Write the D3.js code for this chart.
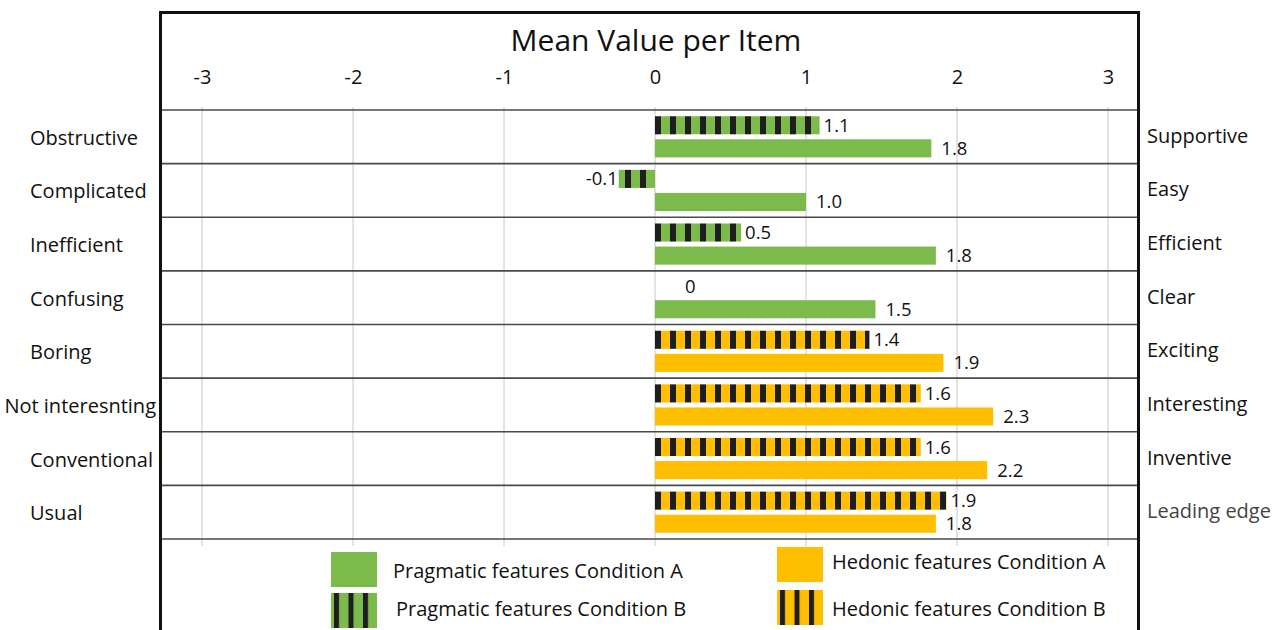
<!DOCTYPE html>
<html>
<head>
<meta charset="utf-8">
<script src="https://cdn.jsdelivr.net/npm/d3@7"></script>
<style>
  html, body { margin: 0; padding: 0; background: #fff; }
  svg { display: block; font-family: "Open Sans", sans-serif; }
</style>
</head>
<body>
<svg id="chart" width="1280" height="630"></svg>
<script>
// ---- data ----
const leftLabels  = ["Obstructive", "Complicated", "Inefficient", "Confusing", "Boring", "Not interesnting", "Conventional", "Usual"];
const rightLabels = ["Supportive", "Easy", "Efficient", "Clear", "Exciting", "Interesting", "Inventive", "Leading edge"];
const groups      = ["pragmatic", "pragmatic", "pragmatic", "pragmatic", "hedonic", "hedonic", "hedonic", "hedonic"];
const condA       = [1.83, 1.0, 1.86, 1.46, 1.91, 2.24, 2.2, 1.86];
const condB       = [1.09, -0.24, 0.57, 0, 1.42, 1.76, 1.76, 1.93];
const labelsA     = ["1.8", "1.0", "1.8", "1.5", "1.9", "2.3", "2.2", "1.8"];
const labelsB     = ["1.1", "-0.1", "0.5", "0", "1.4", "1.6", "1.6", "1.9"];
const tickValues  = [-3, -2, -1, 0, 1, 2, 3];
const legendItems = ["Pragmatic features Condition A", "Pragmatic features Condition B", "Hedonic features Condition A", "Hedonic features Condition B"];
const title = "Mean Value per Item";

// ---- style ----
const colors = { pragmatic: "#7dba4c", hedonic: "#ffbf00" };
const stripeColor = "#1e1e1e";

const svg = d3.select("#chart");
const defs = svg.append("defs");

const x = d3.scaleLinear().domain([-3, 3]).range([202, 1108]);
const rows = d3.range(leftLabels.length);
const y = d3.scaleBand().domain(rows).range([110, 539]).paddingInner(0).paddingOuter(0);
const sub = d3.scaleBand().domain(["B", "A"]).range([0, y.bandwidth()]).paddingInner(0.217).paddingOuter(0.27);

function makePattern(id, color, x0, period, w) {
  const p = defs.append("pattern").attr("id", id)
    .attr("patternUnits", "userSpaceOnUse")
    .attr("x", x0).attr("y", 0).attr("width", period).attr("height", 2000);
  p.append("rect").attr("width", period).attr("height", 2000).attr("fill", color);
  p.append("rect").attr("width", w).attr("height", 2000).attr("fill", stripeColor);
}
makePattern("stripe-pragmatic", colors.pragmatic, x(0), 15, 6);
makePattern("stripe-hedonic", colors.hedonic, x(0), 15, 6);

// gridlines
svg.append("g").selectAll("line").data(tickValues).join("line")
  .attr("x1", d => x(d)).attr("x2", d => x(d))
  .attr("y1", 107).attr("y2", 546)
  .attr("stroke", "#c8c8c8").attr("stroke-width", 1);

// row separators
const sepYs = rows.map(r => y(r)).concat([y.range()[1]]);
svg.append("g").selectAll("line").data(sepYs).join("line")
  .attr("x1", 161).attr("x2", 1138)
  .attr("y1", d => d).attr("y2", d => d)
  .attr("stroke", "#4a4a4a").attr("stroke-width", 1.6);

// axis tick labels (top)
const axis = d3.axisTop(x).tickValues(tickValues).tickSize(0).tickPadding(0).tickFormat(d3.format("d"));
const axG = svg.append("g").attr("transform", "translate(0,84)").call(axis);
axG.select(".domain").remove();
axG.selectAll("text").attr("font-size", 20).attr("fill", "#111").attr("font-family", "'Open Sans', sans-serif")
  .attr("dy", 0).attr("y", 0).text(d => d < 0 ? "-" + Math.abs(d) : d);

// title
svg.append("text").attr("x", 656).attr("y", 51).attr("text-anchor", "middle")
  .attr("font-size", 30).attr("fill", "#111").text(title);

// bars
const barG = svg.append("g");
rows.forEach(i => {
  const g = groups[i];
  const vb = condB[i], va = condA[i];
  // condition B (striped)
  barG.append("rect")
    .attr("x", x(Math.min(0, vb))).attr("width", Math.abs(x(vb) - x(0)))
    .attr("y", y(i) + sub("B")).attr("height", sub.bandwidth())
    .attr("fill", `url(#stripe-${g})`);
  // condition A (solid)
  barG.append("rect")
    .attr("x", x(Math.min(0, va))).attr("width", Math.abs(x(va) - x(0)))
    .attr("y", y(i) + sub("A")).attr("height", sub.bandwidth())
    .attr("fill", colors[g]);
  // labels
  const ty = (k) => y(i) + sub(k) + sub.bandwidth() / 2 + 6.5;
  let lbB = barG.append("text").attr("font-size", 18.5).attr("fill", "#111").attr("y", ty("B")).text(labelsB[i]);
  if (vb < 0) lbB.attr("x", x(vb) - 1).attr("text-anchor", "end");
  else if (vb === 0) lbB.attr("x", x(vb) + 30);
  else lbB.attr("x", x(vb) + 4);
  barG.append("text").attr("font-size", 18.5).attr("fill", "#111")
    .attr("x", x(va) + 10).attr("y", ty("A")).text(labelsA[i]);
});

// left labels
const leftG = svg.append("g");
rows.forEach(i => {
  const t = leftG.append("text").attr("font-size", 20).attr("fill", "#111")
    .attr("y", y(i) + y.bandwidth() / 2 + 8).text(leftLabels[i]);
  const w = t.node().getComputedTextLength();
  t.attr("x", Math.min(30, 156 - w));
});
// right labels
svg.append("g").selectAll("text").data(rows).join("text")
  .attr("font-size", 20)
  .attr("fill", (d, i) => i === rows.length - 1 ? "#444" : "#111")
  .attr("x", 1147).attr("y", d => y(d) + y.bandwidth() / 2 + 6)
  .text(d => rightLabels[d]);

// frame
svg.append("path")
  .attr("d", "M160.5,640 V12.5 H1138.5 V640")
  .attr("fill", "none").attr("stroke", "#111").attr("stroke-width", 3);

// legend
makePattern("leg-stripe-pragmatic", colors.pragmatic, 334, 14.5, 5);
makePattern("leg-stripe-hedonic", colors.hedonic, 780, 14.5, 5);
const legend = [
  { x: 331, y: 552, fill: colors.pragmatic, tx: 393, ty: 578, text: legendItems[0] },
  { x: 331, y: 593, fill: "url(#leg-stripe-pragmatic)", tx: 396, ty: 616, text: legendItems[1] },
  { x: 777, y: 547, fill: colors.hedonic, tx: 832, ty: 569, text: legendItems[2] },
  { x: 777, y: 590, fill: "url(#leg-stripe-hedonic)", tx: 832, ty: 616, text: legendItems[3] }
];
const lg = svg.append("g");
lg.selectAll("rect").data(legend).join("rect")
  .attr("x", d => d.x).attr("y", d => d.y).attr("width", 46).attr("height", 35)
  .attr("fill", d => d.fill);
lg.selectAll("text").data(legend).join("text")
  .attr("x", d => d.tx).attr("y", d => d.ty).attr("font-size", 20).attr("fill", "#111")
  .text(d => d.text);
</script>
</body>
</html>
